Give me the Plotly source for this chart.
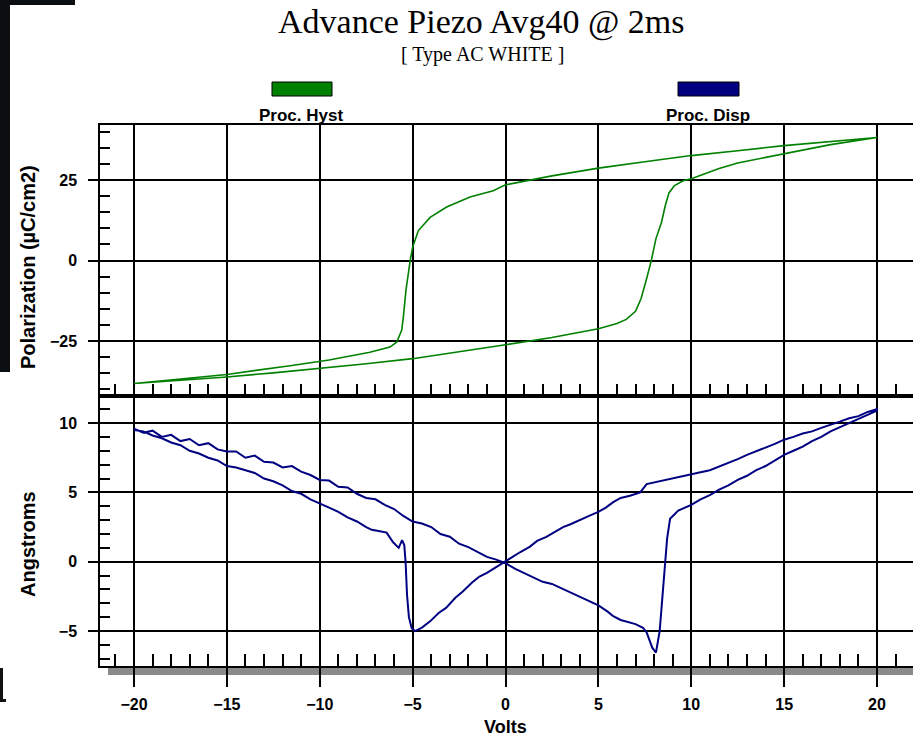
import plotly.graph_objects as go

W, H = 913, 737


def px(x):
    return x / W


def py(y):
    return 1 - y / H


# ---------------- data ----------------
# Hysteresis loop, increasing voltage branch
hyst_up_v = [-20, -17.5, -15, -12.5, -10, -7.5, -5, -2.5, 0, 2.5, 5, 6, 6.5, 7, 7.3,
             7.6, 7.85, 8.1, 8.4, 8.6, 8.8, 9.1, 9.56, 10, 11.5, 12.5, 15, 17.5, 20]
hyst_up_p = [-38.2, -37.2, -36.2, -34.9, -33.6, -32.1, -30.5, -28.4, -26.2, -23.9, -21.2,
             -19.6, -18.3, -15.8, -11.8, -5.6, 0, 6.8, 11.9, 17.0, 21.0, 23.3, 24.8, 25.4,
             28.6, 30.3, 33.2, 36.0, 38.2]
# Hysteresis loop, decreasing voltage branch
hyst_dn_v = [20, 17.5, 15, 12.5, 10, 7.5, 5, 2.5, 0, -0.66, -1.91, -3.17, -4.06, -4.69,
             -5.0, -5.13, -5.36, -5.5, -5.59, -5.86, -6.22, -7.3, -9.5, -11.5, -15, -17.5, -20]
hyst_dn_p = [38.2, 37.0, 35.7, 34.1, 32.6, 30.7, 28.7, 26.3, 23.5, 21.7, 19.7, 16.6, 13.4,
             9.3, 4.1, 0, -9.3, -17.6, -21.7, -25.4, -26.9, -28.5, -30.9, -32.6, -35.4,
             -36.8, -38.2]

# Displacement butterfly, increasing voltage branch
disp_up_v = [-20, -19.5, -19, -18.5, -18, -17.5, -17, -16.5, -16, -15.5, -15, -14.5, -14,
             -13.5, -13, -12.5, -12, -11.5, -11, -10.5, -10, -9.5, -9, -8.5, -8, -7.5, -7,
             -6.5, -6, -5.5, -5, -4.5, -4, -3.5, -3, -2.5, -2, -1.5, -1, -0.5, 0, 0.5, 1,
             1.5, 2, 2.5, 3, 3.5, 4, 4.5, 5, 5.5, 5.8, 6.2, 6.7, 7.0, 7.4, 7.6, 7.9, 8.1,
             8.3, 8.5, 8.7, 8.86, 9.3, 10, 10.5, 11, 11.5, 12, 12.5, 13, 13.5, 14, 14.5,
             15, 15.5, 16, 16.5, 17, 17.5, 18, 18.5, 19, 19.5, 20]
disp_up_a = [9.6, 9.3, 9.45, 9.0, 9.15, 8.7, 8.85, 8.4, 8.55, 8.1, 7.95, 7.95, 7.5, 7.65,
             7.2, 7.15, 6.8, 6.9, 6.5, 6.25, 5.9, 5.85, 5.4, 5.35, 4.9, 4.6, 4.5, 4.1, 3.8,
             3.3, 2.9, 2.75, 2.5, 2.0, 1.8, 1.3, 1.05, 0.7, 0.35, 0.15, -0.1, -0.5, -0.8,
             -1.15, -1.45, -1.6, -1.9, -2.2, -2.5, -2.8, -3.15, -3.6, -3.93, -4.2, -4.4,
             -4.5, -4.76, -5.1, -6.2, -6.55, -5.0, -1.43, 1.67, 3.1, 3.69, 4.1, 4.5, 4.8,
             5.2, 5.5, 5.9, 6.2, 6.6, 6.9, 7.3, 7.7, 8.0, 8.3, 8.7, 9.0, 9.4, 9.7, 10.0,
             10.3, 10.6, 10.9]
# Displacement butterfly, decreasing voltage branch
disp_dn_v = [20, 19.5, 19, 18.5, 18, 17.5, 17, 16.5, 16, 15.5, 15, 14.5, 14, 13.5, 13,
             12.5, 12, 11.5, 11, 10.5, 10, 9.5, 9, 8.5, 8, 7.6, 7.25, 6.7, 6.2, 5.8, 5.4,
             5, 4.5, 4, 3.5, 3.1, 2.6, 2.2, 1.7, 1.3, 0.8, 0.4, 0, -0.5, -1, -1.4, -1.8,
             -2.3, -2.7, -3.2, -3.6, -4.06, -4.5, -4.87, -5.05, -5.2, -5.3, -5.38, -5.45,
             -5.57, -5.75, -6.05, -6.4, -6.76, -7.2, -7.5, -8, -8.5, -9, -9.5, -10, -10.5,
             -11, -11.5, -12, -12.5, -13, -13.5, -14, -14.5, -15, -15.5, -16, -16.5, -17,
             -17.5, -18, -18.5, -19, -19.5, -20]
disp_dn_a = [11.0, 10.8, 10.5, 10.35, 10.1, 9.9, 9.65, 9.4, 9.25, 9.0, 8.8, 8.5, 8.25, 8.0,
             7.7, 7.4, 7.15, 6.9, 6.6, 6.45, 6.3, 6.2, 6.05, 5.85, 5.75, 5.6, 5.0, 4.76,
             4.6, 4.3, 3.9, 3.6, 3.3, 2.98, 2.7, 2.5, 2.1, 1.79, 1.5, 1.07, 0.7, 0.36, 0.0,
             -0.4, -0.8, -1.07, -1.5, -2.14, -2.6, -3.33, -3.7, -4.3, -4.75, -5.0, -4.8,
             -4.0, -2.4, 0.0, 1.2, 1.55, 1.0, 1.4, 2.1, 2.2, 2.3, 2.5, 2.9, 3.2, 3.6, 3.9,
             4.2, 4.5, 4.9, 5.1, 5.5, 5.8, 6.0, 6.4, 6.6, 6.8, 6.9, 7.3, 7.5, 7.8, 8.0,
             8.4, 8.6, 8.9, 9.1, 9.4, 9.5]

volt_ticks = [-20, -15, -10, -5, 0, 5, 10, 15, 20]
pol_ticks = [-25, 0, 25]
ang_ticks = [-5, 0, 5, 10]

title_text = "Advance Piezo Avg40 @ 2ms"
subtitle_text = "[ Type AC WHITE ]"
legend_names = ["Proc. Hyst", "Proc. Disp"]
GREEN = "#008000"
NAVY = "#000080"

# ---------------- figure ----------------
fig = go.Figure()
fig.add_trace(go.Scatter(x=hyst_up_v + hyst_dn_v, y=hyst_up_p + hyst_dn_p,
                         xaxis="x2", yaxis="y2", mode="lines",
                         line=dict(color=GREEN, width=1.6), name=legend_names[0]))
fig.add_trace(go.Scatter(x=disp_up_v + disp_dn_v, y=disp_up_a + disp_dn_a,
                         xaxis="x", yaxis="y", mode="lines",
                         line=dict(color=NAVY, width=2), name=legend_names[1]))

SANS = "Liberation Sans, Arial, sans-serif"
SERIF = "Liberation Serif, Times New Roman, serif"
tickfont = dict(family=SANS, size=16, color="black", weight="bold")
xr = [(100 - 505.5) / 18.575, (913 - 505.5) / 18.575]

common_x = dict(domain=[px(100), 1], range=xr, tickvals=volt_ticks,
                showgrid=True, gridcolor="black", gridwidth=2,
                showline=True, linecolor="black", mirror=True, zeroline=False,
                minor=dict(dtick=1, ticks="inside", ticklen=12, tickwidth=2,
                           tickcolor="black", showgrid=False))

fig.update_layout(
    width=W, height=H, margin=dict(l=0, r=0, t=0, b=0),
    paper_bgcolor="white", plot_bgcolor="white", showlegend=False,
    xaxis=dict(anchor="y", ticks="outside", ticklen=19, tickwidth=2, tickcolor="black",
               tickfont=tickfont, ticklabelstandoff=4, linewidth=2, **common_x),
    xaxis2=dict(anchor="y2", matches="x", showticklabels=False, ticks="",
                linewidth=1.5, **common_x),
    yaxis=dict(domain=[py(666), py(396)], range=[-7.52, 11.95], anchor="x",
               tickvals=ang_ticks, ticks="outside", ticklen=10, tickwidth=1.5,
               tickcolor="black", tickfont=tickfont, ticklabelstandoff=8,
               showgrid=True, gridcolor="black", gridwidth=1.5, zeroline=False,
               showline=True, linecolor="black", linewidth=1.5,
               minor=dict(dtick=1, ticks="inside", ticklen=10, tickwidth=1.5,
                          tickcolor="black", showgrid=False)),
    yaxis2=dict(domain=[py(396), py(125)], range=[-42.1, 42.1], anchor="x2",
                tickvals=pol_ticks, ticks="outside", ticklen=10, tickwidth=1.5,
                tickcolor="black", tickfont=tickfont, ticklabelstandoff=8,
                showgrid=True, gridcolor="black", gridwidth=1.5, zeroline=False,
                showline=True, linecolor="black", linewidth=1.5,
                minor=dict(dtick=5, ticks="inside", ticklen=10, tickwidth=1.5,
                           tickcolor="black", showgrid=False)),
)

shapes = [
    # grey shadow under the bottom frame
    dict(type="rect", xref="paper", yref="paper", x0=px(108), x1=1, y0=py(675), y1=py(666),
         fillcolor="#8a8a8a", line=dict(width=0), layer="below"),
    # legend swatches
    dict(type="rect", xref="paper", yref="paper", x0=px(272), x1=px(332), y0=py(96), y1=py(82),
         fillcolor=GREEN, line=dict(color="black", width=1)),
    dict(type="rect", xref="paper", yref="paper", x0=px(678), x1=px(739), y0=py(96), y1=py(82),
         fillcolor=NAVY, line=dict(color="black", width=1)),
    # dark screenshot edges
    dict(type="rect", xref="paper", yref="paper", x0=0, x1=px(10), y0=py(372), y1=1,
         fillcolor="#0b0f11", line=dict(width=0)),
    dict(type="rect", xref="paper", yref="paper", x0=0, x1=px(75), y0=py(5), y1=1,
         fillcolor="#0b0f11", line=dict(width=0)),
    dict(type="rect", xref="paper", yref="paper", x0=0, x1=px(3), y0=py(700), y1=py(668),
         fillcolor="#111111", line=dict(width=0)),
    dict(type="rect", xref="paper", yref="paper", x0=0, x1=px(6), y0=py(702), y1=py(699),
         fillcolor="#111111", line=dict(width=0)),
]


def ann(text, x, y, font, angle=0):
    return dict(text=text, x=px(x), y=py(y), xref="paper", yref="paper",
                xanchor="center", yanchor="middle", showarrow=False,
                textangle=angle, font=font)


lab_font = dict(family=SANS, size=17, color="black", weight="bold")
axt_font = dict(family=SANS, size=20, color="black", weight="bold")
annotations = [
    ann(title_text, 481, 22, dict(family=SERIF, size=34, color="black")),
    ann(subtitle_text, 482, 55, dict(family=SERIF, size=20, color="black")),
    ann(legend_names[0], 301, 115, lab_font),
    ann(legend_names[1], 708, 115, lab_font),
    ann("Polarization (µC/cm2)", 28, 267, axt_font, -90),
    ann("Angstroms", 28, 544, axt_font, -90),
    ann("Volts", 505, 727, dict(family=SANS, size=18, color="black", weight="bold")),
]
fig.update_layout(shapes=shapes, annotations=annotations)

fig.write_html("out.html")
